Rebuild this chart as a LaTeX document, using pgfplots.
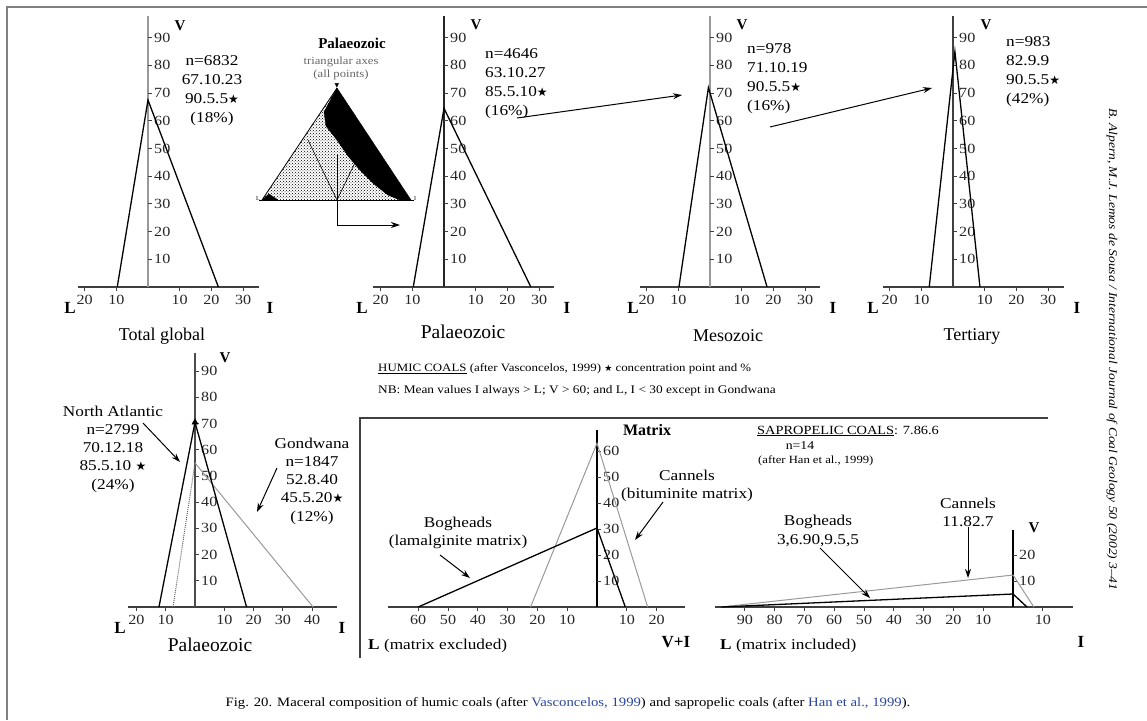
\documentclass[border=0pt]{standalone}
\usepackage{fontspec}
\setmainfont{Liberation Serif}
\newfontfamily\wide[FakeStretch=1.15]{Liberation Serif}
\newfontfamily\sym{DejaVu Sans}
\usepackage{pgfplots}
\pgfplotsset{compat=1.18}
\usetikzlibrary{patterns,arrows.meta}

\newcommand\fs[1]{\fontsize{#1}{#1}\selectfont}
\newcommand\st{{\sym\fontsize{12}{12}\selectfont ★}}
\definecolor{lg}{gray}{0.6}
\definecolor{dk}{gray}{0.25}
\definecolor{lnk}{RGB}{40,70,160}

\pgfplotsset{
  tri/.style={anchor=origin, clip=false, axis lines=middle, axis line style={-},
    x axis line style={draw=dk, line width=1.2pt},
    major tick length=0pt,
    tick label style={font=\wide\fs{14}, text=black!85},
    xticklabel style={anchor=north, yshift=-6.5pt, inner sep=1pt},
    yticklabel style={anchor=west, xshift=6pt, inner sep=0pt},
    /pgf/number format/assume math mode=true},
  tk/.style={draw=dk, line width=1pt},
  tr/.style={black, line width=1.3pt},
  tg/.style={lg, line width=1pt},
}
\tikzset{ar/.style={line width=1pt, -{Stealth[length=9pt,width=6pt]}}}

\begin{document}
\begin{tikzpicture}
\path[use as bounding box] (0pt,0pt) rectangle (1147pt,-720pt);

% ---- humic coals, top row
\begin{axis}[tri, at={(148pt,-287pt)}, x=3.17pt, y=2.77pt,
  xmin=-22, xmax=35, ymin=0, ymax=98,
  y axis line style={draw=lg, line width=2.5pt},
  xtick={-20,-10,10,20,30}, xticklabels={20,10,10,20,30},
  ytick={10,20,30,40,50,60,70,80,90}]
\addplot[ycomb, tk] coordinates {(-20,-1.45) (-10,-1.45) (10,-1.45) (20,-1.45) (30,-1.45)};
\addplot[xcomb, tk] coordinates {(1.3,10) (1.3,20) (1.3,30) (1.3,40) (1.3,50) (1.3,60) (1.3,70) (1.3,80) (1.3,90)};
\addplot[tr] coordinates {(-9.7,0) (0,67.5) (22.2,0)};
\end{axis}

\begin{axis}[tri, at={(444pt,-287pt)}, x=3.17pt, y=2.77pt,
  xmin=-22.4, xmax=34.7, ymin=0, ymax=98,
  y axis line style={draw=black!85, line width=1.5pt},
  xtick={-20,-10,10,20,30}, xticklabels={20,10,10,20,30},
  ytick={10,20,30,40,50,60,70,80,90}]
\addplot[ycomb, tk] coordinates {(-20,-1.45) (-10,-1.45) (10,-1.45) (20,-1.45) (30,-1.45)};
\addplot[xcomb, tk] coordinates {(1.3,10) (1.3,20) (1.3,30) (1.3,40) (1.3,50) (1.3,60) (1.3,70) (1.3,80) (1.3,90)};
\addplot[tr] coordinates {(-9.7,0) (0,64.5) (27.4,0)};
\end{axis}

\begin{axis}[tri, at={(710pt,-287pt)}, x=3.17pt, y=2.77pt,
  xmin=-22, xmax=34.7, ymin=0, ymax=98,
  y axis line style={draw=lg, line width=2.5pt},
  xtick={-20,-10,10,20,30}, xticklabels={20,10,10,20,30},
  ytick={10,20,30,40,50,60,70,80,90}]
\addplot[ycomb, tk] coordinates {(-20,-1.45) (-10,-1.45) (10,-1.45) (20,-1.45) (30,-1.45)};
\addplot[xcomb, tk] coordinates {(1.3,10) (1.3,20) (1.3,30) (1.3,40) (1.3,50) (1.3,60) (1.3,70) (1.3,80) (1.3,90)};
\addplot[tr] coordinates {(-9.8,0) (-0.5,72) (18,0)};
\end{axis}

\begin{axis}[tri, at={(953pt,-287pt)}, x=3.17pt, y=2.77pt,
  xmin=-22, xmax=35, ymin=0, ymax=98,
  y axis line style={draw=dk, line width=2pt},
  xtick={-20,-10,10,20,30}, xticklabels={20,10,10,20,30},
  ytick={10,20,30,40,50,60,70,80,90}]
\addplot[ycomb, tk] coordinates {(-20,-1.45) (-10,-1.45) (10,-1.45) (20,-1.45) (30,-1.45)};
\addplot[xcomb, tk] coordinates {(1.3,10) (1.3,20) (1.3,30) (1.3,40) (1.3,50) (1.3,60) (1.3,70) (1.3,80) (1.3,90)};
\addplot[tr] coordinates {(-7.5,0) (0.6,85) (8.5,0)};
\end{axis}

% ---- triangular inset (all points)
\begin{axis}[anchor=origin, at={(262pt,-200pt)}, x=1pt, y=1pt,
  xmin=-3, xmax=152, ymin=0, ymax=114, axis lines=none, clip=false]
\addplot[draw=none, pattern=crosshatch dots, pattern color=black] coordinates {(0,0) (149,0) (75,112)} -- cycle;
\addplot[fill=black, draw=black] coordinates {(75,112) (149,0) (138,0) (126,5) (112,16) (98,30) (86,44) (75,60) (64,74) (62,88)} -- cycle;
\addplot[fill=black, draw=black] coordinates {(0,0) (16,0) (7,6)} -- cycle;
\addplot[black, line width=0.8pt] coordinates {(0,0) (75,112)};
\addplot[black, line width=0.8pt] coordinates {(-3,0) (152,0)};
\addplot[black, line width=0.6pt] coordinates {(46,60) (75,0) (104,60)};
\addplot[black, line width=0.6pt] coordinates {(75,0) (75,45)};
\end{axis}

% ---- humic coals, Palaeozoic split
\begin{axis}[tri, at={(195pt,-607pt)}, x=2.93pt, y=2.62pt,
  xmin=-23, xmax=48.5, ymin=0, ymax=97,
  y axis line style={draw=black!70, line width=1.8pt},
  xtick={-20,-10,10,20,30,40}, xticklabels={20,10,10,20,30,40},
  ytick={10,20,30,40,50,60,70,80,90}]
\addplot[ycomb, tk] coordinates {(-20,-1.5) (-10,-1.5) (10,-1.5) (20,-1.5) (30,-1.5) (40,-1.5)};
\addplot[xcomb, tk] coordinates {(1.35,10) (1.35,20) (1.35,30) (1.35,40) (1.35,50) (1.35,60) (1.35,70) (1.35,80) (1.35,90)};
\addplot[black!60, line width=1pt, densely dotted] coordinates {(-7.5,0) (0,55)};
\addplot[tg] coordinates {(0,55) (40.3,0)};
\addplot[tr] coordinates {(-12.3,0) (0,70.5) (17.6,0)};
\addplot[only marks, mark=triangle*, mark size=3.5pt, black] coordinates {(0,70.5)};
\end{axis}

% ---- sapropelic coals, matrix excluded
\begin{axis}[tri, at={(597pt,-607pt)}, x=2.98pt, y=2.6pt,
  xmin=-70, xmax=29.5, ymin=0, ymax=68,
  y axis line style={draw=black, line width=1.3pt},
  xtick={-60,-50,-40,-30,-20,-10,10,20}, xticklabels={60,50,40,30,20,10,10,20},
  ytick={10,20,30,40,50,60}]
\addplot[ycomb, tk] coordinates {(-60,-1.5) (-50,-1.5) (-40,-1.5) (-30,-1.5) (-20,-1.5) (-10,-1.5) (10,-1.5) (20,-1.5)};
\addplot[xcomb, tk] coordinates {(1.35,10) (1.35,20) (1.35,30) (1.35,40) (1.35,50) (1.35,60)};
\addplot[tg] coordinates {(-22.3,0) (0,63) (17,0)};
\addplot[tr] coordinates {(-60,0) (0,30.4) (9.5,0)};
\end{axis}

% ---- sapropelic coals, matrix included
\begin{axis}[tri, at={(1013pt,-607pt)}, x=2.98pt, y=2.6pt,
  xmin=-100, xmax=20, ymin=0, ymax=29.6,
  y axis line style={draw=black, line width=1.5pt},
  xtick={-90,-80,-70,-60,-50,-40,-30,-20,-10,10}, xticklabels={90,80,70,60,50,40,30,20,10,10},
  ytick={10,20}]
\addplot[ycomb, tk] coordinates {(-90,-1.5) (-80,-1.5) (-70,-1.5) (-60,-1.5) (-50,-1.5) (-40,-1.5) (-30,-1.5) (-20,-1.5) (-10,-1.5) (10,-1.5)};
\addplot[xcomb, tk] coordinates {(1.35,10) (1.35,20)};
\addplot[tg] coordinates {(-98,0) (0,12.3) (7,0)};
\addplot[tr] coordinates {(-98,0) (0,5) (4.7,0)};
\end{axis}

\begin{scope}[x=1pt, y=-1pt]
% frame
\draw[draw=black!50, line width=2pt] (7,720) -- (7,7) -- (1147,7);
\draw[draw=dk, line width=1.3pt] (360,658) -- (360,418) -- (1048,418);

% axis letters
\begin{scope}[every node/.style={font=\bfseries\fs{17}}]
\node at (70,308) {L};   \node at (270,308) {I};
\node at (362,308) {L};  \node at (567,308) {I};
\node at (633,308) {L};  \node at (833,308) {I};
\node at (873,308) {L};  \node at (1077,308) {I};
\node at (120,628) {L};  \node at (342,628) {I};
\node at (1081,642) {I};
\node at (676,642) {V+I};
\end{scope}
\begin{scope}[every node/.style={font=\bfseries\fs{15}}]
\node at (180,26) {V}; \node at (476,25) {V}; \node at (742,25) {V};
\node at (986,25) {V}; \node at (225,358) {V}; \node at (1034,528) {V};
\node[font=\bfseries\fs{16}] at (647,430) {Matrix};
\end{scope}

% panel titles
\node[font=\fs{18}] at (162,336) {Total global};
\node[font=\fs{19.5}] at (463,332) {Palaeozoic};
\node[font=\fs{18}] at (728,336) {Mesozoic};
\node[font=\fs{18}] at (972,336) {Tertiary};
\node[font=\fs{19.5}] at (210,645) {Palaeozoic};

% statistics
\begin{scope}[every node/.style={font=\wide\fontsize{15}{19}\selectfont, inner sep=0pt}]
\node[align=center] at (212,91) {n=6832\\67.10.23\\90.5.5\st\\(18\%)};
\node[align=left, anchor=west] at (485,84) {n=4646\\63.10.27\\85.5.10\st\\(16\%)};
\node[align=left, anchor=west] at (747,79) {n=978\\71.10.19\\90.5.5\st\\(16\%)};
\node[align=left, anchor=west] at (1006,72) {n=983\\82.9.9\\90.5.5\st\\(42\%)};
\end{scope}
\begin{scope}[every node/.style={font=\wide\fontsize{15}{18.2}\selectfont, inner sep=0pt, align=center}]
\node at (113,449) {North Atlantic\\n=2799\\70.12.18\\85.5.10 \st\\(24\%)};
\node at (312,481) {Gondwana\\n=1847\\52.8.40\\45.5.20\st\\(12\%)};
\node at (458,533) {Bogheads\\(lamalginite matrix)};
\node at (687,486) {Cannels\\(bituminite matrix)};
\node at (968,512) {Cannels\\11.82.7};
\node at (818,531) {Bogheads\\3,6.90,9.5,5};
\end{scope}

% inset labels
\node[font=\bfseries\fs{15}] at (352,43) {Palaeozoic};
\node[font=\wide\fs{11}, text=black!60] at (341,62) {triangular axes};
\node[font=\wide\fs{11}, text=black!60] at (341,75) {(all points)};
\node[font=\fs{6}] at (258,199) {L};
\node[font=\fs{6}] at (415,199) {I};
\node[font=\sym\fs{6}] at (337,86) {▼};

% arrows
\draw[ar] (337,200) -- (337,225) -- (400,225);
\draw[ar] (517,118) -- (682,95);
\draw[ar] (770,127) -- (932,88);
\draw[ar] (143,423) -- (180,462);
\draw[ar] (277,468) -- (257,512);
\draw[ar] (440,555) -- (470,578);
\draw[ar] (663,502) -- (635,540);
\draw[ar] (968,527) -- (968,578);
\draw[ar] (820,548) -- (870,598);

% notes
\node[anchor=west, inner sep=0pt, font=\wide\fs{11.2}] at (378,369)
  {\underline{HUMIC COALS} (after Vasconcelos, 1999) {\sym\fs{9}★} concentration point and \%};
\node[anchor=west, inner sep=0pt, font=\wide\fs{11.6}] at (378,391)
  {NB: Mean values I always > L; V > 60; and L, I < 30 except in Gondwana};
\node[anchor=west, inner sep=0pt, font=\wide\fs{12.5}] at (757,431) {\underline{SAPROPELIC COALS}: 7.86.6};
\node[font=\wide\fs{12}, inner sep=0pt] at (800,446) {n=14};
\node[anchor=west, inner sep=0pt, font=\wide\fs{11}] at (758,461) {(after Han et al., 1999)};

\node[anchor=west, inner sep=0pt, font=\wide\fs{15}] at (368,646) {\textbf{L} (matrix excluded)};
\node[anchor=west, inner sep=0pt, font=\wide\fs{15}] at (720,646) {\textbf{L} (matrix included)};

% caption and running head
\node[font=\wide\fs{12.8}] at (568,703) {Fig. 20. Maceral composition of humic coals (after \textcolor{lnk}{Vasconcelos, 1999}) and sapropelic coals (after \textcolor{lnk}{Han et al., 1999}).};
\node[rotate=-90, font=\wide\itshape\fs{11.8}] at (1112,349) {B. Alpern, M.J. Lemos de Sousa / International Journal of Coal Geology 50 (2002) 3–41};
\end{scope}
\end{tikzpicture}
\end{document}
